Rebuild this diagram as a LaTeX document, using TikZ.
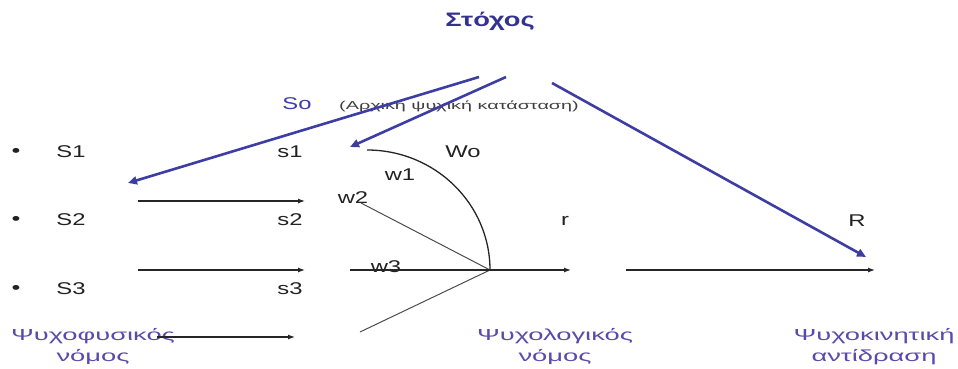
\documentclass[tikz,border=0pt]{standalone}
\usepackage{fontspec}
\setmainfont{Liberation Sans}
\usetikzlibrary{arrows.meta,calc,positioning}
\definecolor{goalblue}{HTML}{33338F}
\definecolor{arrowblue}{HTML}{3D3DA3}
\definecolor{lawviolet}{HTML}{5A4AAE}
\definecolor{inktext}{HTML}{222222}
\tikzset{>=Latex,
  every node/.style={inner sep=0pt,xscale=1.4,text=inktext},
  lbl/.style={font=\fontsize{17}{19}\selectfont},
  lawlbl/.style={font=\fontsize{16}{21}\selectfont,text=lawviolet,align=center,xscale=1.22},
  goalarrow/.style={-{Triangle[length=9pt,width=8pt]},draw=arrowblue,line width=2.6pt},
  flow/.style={-{Latex[length=7pt,width=5pt]},draw=black!85,line width=1.2pt},
  ray/.style={draw=black!70,line width=1pt}}
\begin{document}
\begin{tikzpicture}[x=1pt,y=-1pt]
\useasboundingbox (0,0) rectangle (958,369);
% titles and labels
\node[font=\bfseries\fontsize{19.5}{21}\selectfont,text=goalblue] (goal) at (490,21) {Στόχος};
\node[lbl,text=arrowblue] (So) at (297,104) {So};
\node[font=\fontsize{11.5}{13}\selectfont,text=black!75,xscale=1.23] (init) at (459,106) {(Αρχική ψυχική κατάσταση)};
\foreach \i/\yy in {1/152,2/220,3/289} {
  \node[lbl,font=\bfseries\fontsize{17}{19}\selectfont] (b\i) at (16,\yy) {•};
  \node[lbl] (S\i) at (71,\yy) {S\i};
  \node[lbl] (s\i) at (290,\yy) {s\i};
}
\node[lbl] (Wo) at (463,152) {Wo};
\node[lbl] (w1) at (400,175) {w1};
\node[lbl] (w2) at (353,198) {w2};
\node[lbl] (w3) at (386,267) {w3};
\node[lbl] (r) at (565,221) {r};
\node[lbl] (R) at (857,221) {R};
\node[lawlbl] (physlaw) at (93,347) {Ψυχοφυσικός\\νόμος};
\node[lawlbl] (psylaw) at (555,347) {Ψυχολογικός\\νόμος};
\node[lawlbl] (motor) at (874,347) {Ψυχοκινητική\\αντίδραση};
% end points
\coordinate (g1) at (479,77);
\coordinate (g2) at (506,77);
\coordinate (g3) at (552,83);
\coordinate (t1) at (128,183);
\coordinate (t2) at (350,147);
\coordinate (t3) at (866,257);
\coordinate (hub) at (490,270);
\coordinate (arcstart) at (367,150);
\coordinate (w2end) at (361,203);
\coordinate (w3end) at (350,270);
\coordinate (w4end) at (360,332);
\coordinate (rend) at (571,270);
\coordinate (Rstart) at (626,270);
\coordinate (Rend) at (875,270);
% goal arrows
\draw[goalarrow] (g1) -- (t1);
\draw[goalarrow] (g2) -- (t2);
\draw[goalarrow] (g3) -- (t3);
% stimulus arrows
\draw[flow] (138,201) -- (305,201);
\draw[flow] (138,270) -- (305,270);
\draw[flow] (157,337) -- (295,337);
% weight fan
\draw[ray,draw=black!85,line width=1.3pt] (arcstart) arc[start angle=90,end angle=0,x radius=123,y radius=-120];
\draw[ray] (w2end) -- (hub);
\draw[ray] (w4end) -- (hub);
\draw[flow] (w3end) -- (hub) -- (rend);
\draw[flow] (Rstart) -- (Rend);
\end{tikzpicture}
\end{document}
